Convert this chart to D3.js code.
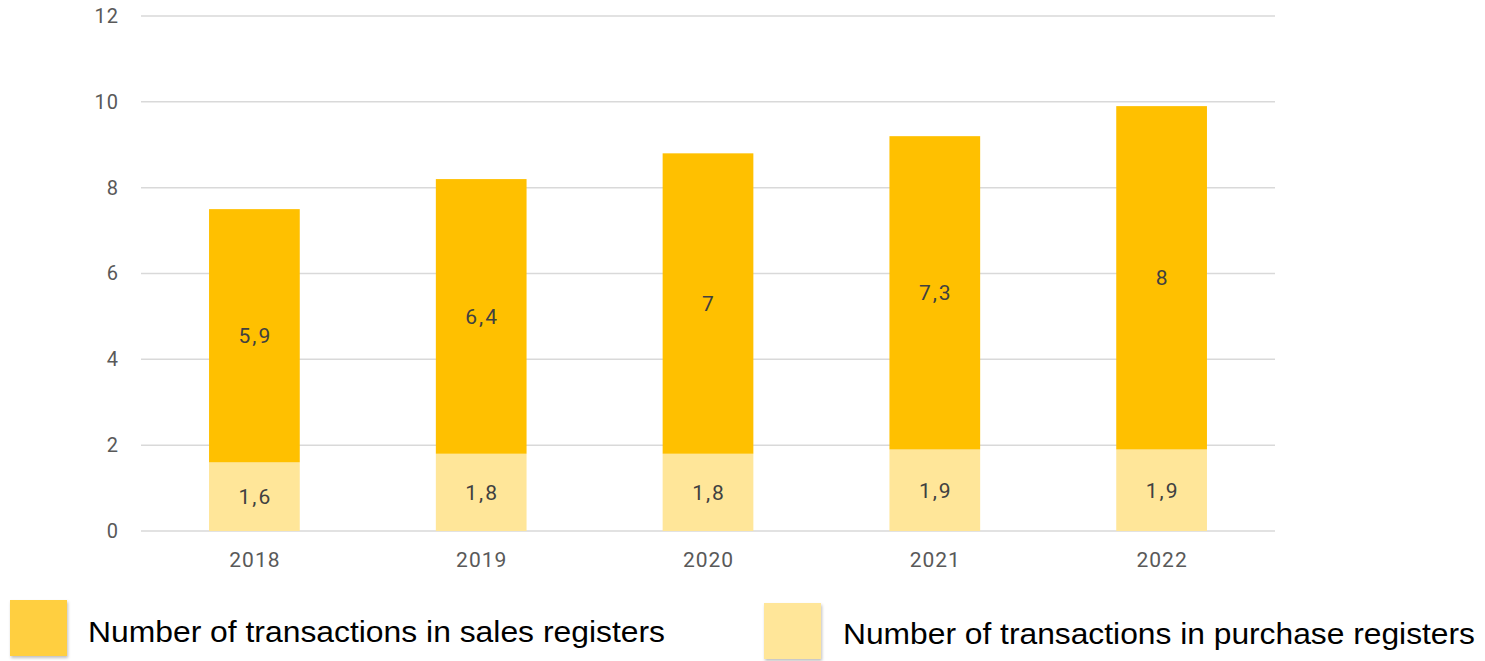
<!DOCTYPE html>
<html><head><meta charset="utf-8">
<script src="https://cdn.jsdelivr.net/npm/d3@7"></script>
<style>body{margin:0;background:#fff}svg{display:block}</style>
</head><body><svg id="c" width="1485" height="661"></svg>
<script>
const years = ["2018","2019","2020","2021","2022"];
const purchase = [1.6, 1.8, 1.8, 1.9, 1.9];
const sales = [5.9, 6.4, 7.0, 7.3, 8.0];
const yTicks = [0, 2, 4, 6, 8, 10, 12];
const seriesNames = ["Number of transactions in sales registers", "Number of transactions in purchase registers"];
const colors = {sales:"#FFC000", purchase:"#FFE699", salesLegend:"#FFCF3F"};

const svg = d3.select("#c");
const x = d3.scaleBand().domain(years).range([141, 1275]).paddingInner(0.6).paddingOuter(0.3);
const y = d3.scaleLinear().domain([0, 12]).range([531, 16]);
const fmt = v => String(v).replace(".", ",");
const FONT = "Roboto, sans-serif";

// grid
svg.append("g").selectAll("line").data(yTicks).join("line")
  .attr("x1", 141).attr("x2", 1275)
  .attr("y1", d => y(d)).attr("y2", d => y(d))
  .attr("stroke", "#D9D9D9").attr("stroke-width", 1.5);

// y axis labels
const yAxis = d3.axisLeft(y).tickValues(yTicks).tickSize(0).tickPadding(0).tickFormat(d => d);
const ga = svg.append("g").attr("transform", "translate(118,0)").call(yAxis);
ga.select(".domain").remove();
ga.selectAll("text").attr("font-family", FONT).attr("font-size", 20).attr("fill", "#595959")
  .attr("letter-spacing", 1).attr("dx", 1);

// x axis labels
const xAxis = d3.axisBottom(x).tickSize(0).tickPadding(0);
const gx = svg.append("g").attr("transform", "translate(0,552)").call(xAxis);
gx.select(".domain").remove();
gx.selectAll("text").attr("font-family", FONT).attr("font-size", 21).attr("fill", "#595959")
  .attr("letter-spacing", 1).attr("dx", 0.5);

// bars
const data = years.map((yr, i) => ({yr, p: purchase[i], s: sales[i]}));
const g = svg.append("g");
g.selectAll(".p").data(data).join("rect").attr("class", "p")
  .attr("x", d => x(d.yr)).attr("width", x.bandwidth())
  .attr("y", d => y(d.p)).attr("height", d => y(0) - y(d.p))
  .attr("fill", colors.purchase);
g.selectAll(".s").data(data).join("rect").attr("class", "s")
  .attr("x", d => x(d.yr)).attr("width", x.bandwidth())
  .attr("y", d => y(d.p + d.s)).attr("height", d => y(d.p) - y(d.p + d.s))
  .attr("fill", colors.sales);

// value labels
function labels(cls, val, mid) {
  g.selectAll("." + cls).data(data).join("text").attr("class", cls)
    .attr("x", d => x(d.yr) + x.bandwidth() / 2 + 1).attr("y", d => y(mid(d)))
    .attr("text-anchor", "middle").attr("dy", "0.36em")
    .attr("font-family", FONT).attr("font-size", 21).attr("fill", "#404040")
    .attr("letter-spacing", 2)
    .text(d => fmt(val(d)));
}
labels("lp", d => d.p, d => d.p / 2);
labels("ls", d => d.s, d => d.p + d.s / 2);

// legend
const defs = svg.append("defs");
const f = defs.append("filter").attr("id", "sh").attr("x", "-20%").attr("y", "-20%").attr("width", "150%").attr("height", "150%");
f.append("feDropShadow").attr("dx", 1).attr("dy", 2).attr("stdDeviation", 1.5).attr("flood-color", "#000").attr("flood-opacity", 0.25);

const leg = [
  {name: seriesNames[0], color: colors.salesLegend, sx: 10, sy: 600, tx: 88, ty: 642, w: 577},
  {name: seriesNames[1], color: colors.purchase, sx: 764, sy: 603, tx: 843, ty: 644, w: 632}
];
const lg = svg.append("g");
lg.selectAll("rect").data(leg).join("rect")
  .attr("x", d => d.sx).attr("y", d => d.sy).attr("width", 57).attr("height", 56)
  .attr("fill", d => d.color).attr("filter", "url(#sh)");
lg.selectAll("text").data(leg).join("text")
  .attr("x", d => d.tx).attr("y", d => d.ty)
  .attr("font-family", "Liberation Sans, Arial, sans-serif").attr("font-size", 30).attr("fill", "#000")
  .attr("textLength", d => d.w).attr("lengthAdjust", "spacingAndGlyphs")
  .text(d => d.name);
</script></body></html>
